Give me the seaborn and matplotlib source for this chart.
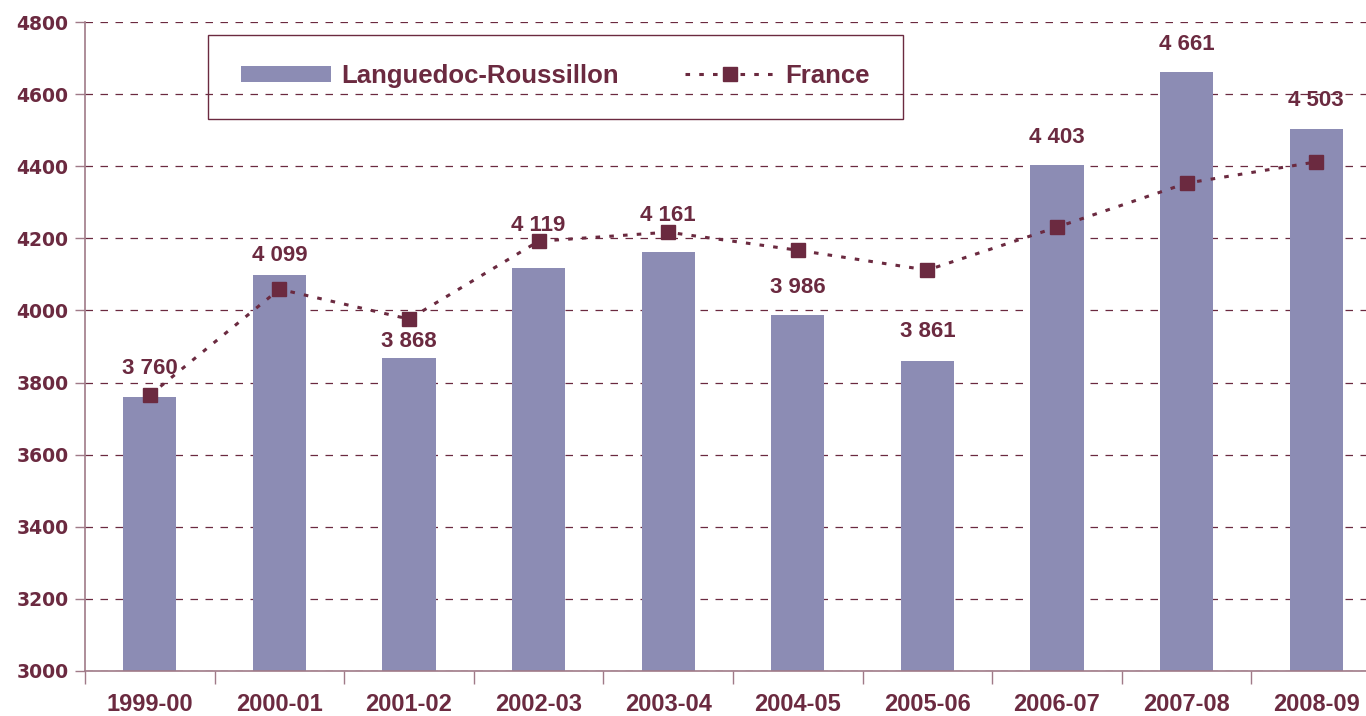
import numpy as np
import pandas as pd
import seaborn as sns
import matplotlib.pyplot as plt
from matplotlib.lines import Line2D
from matplotlib.patches import Patch, Rectangle

# Données
annees = ["1999-00", "2000-01", "2001-02", "2002-03", "2003-04",
          "2004-05", "2005-06", "2006-07", "2007-08", "2008-09"]
languedoc = [3760, 4099, 3868, 4119, 4161, 3986, 3861, 4403, 4661, 4503]
france = [3765, 4059, 3976, 4192, 4217, 4167, 4112, 4231, 4353, 4412]

# décalage vertical des étiquettes (points au-dessus de la barre)
decalage = [20.2, 13.7, 11.6, 30.3, 26.7, 20.2, 20.9, 20.2, 20.2, 20.9]

BAR = "#8C8CB4"
MARRON = "#6B2A40"
AXE = "#A07A88"

sns.set_theme(style="white")
plt.rcParams["font.family"] = ["Liberation Sans", "DejaVu Sans"]
plt.rcParams["font.weight"] = "bold"

df = pd.DataFrame({"annee": annees, "lr": languedoc, "fr": france})

fig = plt.figure(figsize=(13.66, 7.16), dpi=100)
ax = fig.add_axes([85 / 1366, 45 / 716, 1296 / 1366, 649 / 716])

sns.barplot(data=df, x="annee", y="lr", color=BAR, width=0.41,
            saturation=1, linewidth=0, ax=ax, zorder=2)
ax.plot(range(len(annees)), france, color=MARRON, linestyle=(0, (1.5, 3)),
        linewidth=2.2, marker="s", markersize=10, zorder=4)

# Etiquettes des barres
for i, v in enumerate(languedoc):
    txt = f"{v:,}".replace(",", " ")
    ax.annotate(txt, (i, v), xytext=(0, decalage[i]), textcoords="offset points",
                ha="center", va="center", fontsize=16, fontweight="bold",
                color=MARRON, zorder=5)

ax.set_ylim(3000, 4800)
ax.set_xlim(-0.5, 9.5)
ax.set_yticks(range(3000, 4801, 200))
ax.yaxis.grid(True, color=MARRON, linestyle=(0, (6, 6)), linewidth=0.9)
ax.set_axisbelow(True)
ax.set_xlabel("")
ax.set_ylabel("")

for s in ["top", "right"]:
    ax.spines[s].set_visible(False)
for s in ["left", "bottom"]:
    ax.spines[s].set_color(AXE)
    ax.spines[s].set_linewidth(1.2)

ax.tick_params(axis="y", left=True, length=7, color=AXE, width=1,
               labelsize=13.5, labelcolor=MARRON, pad=5)
ax.tick_params(axis="x", which="major", bottom=False, labelsize=17,
               labelcolor=MARRON, pad=10)
ax.set_xticks(np.arange(-0.5, 10, 1), minor=True)
ax.tick_params(axis="x", which="minor", bottom=True, length=9,
               color=AXE, width=1)
for lab in ax.get_xticklabels():
    lab.set_fontweight("bold")
for lab in ax.get_yticklabels():
    lab.set_fontweight("bold")
    lab.set_family("DejaVu Sans")

# Légende dans un cadre
fig.patches.append(Rectangle((208 / 1366, 1 - 119 / 716), 695 / 1366, 84 / 716,
                             transform=fig.transFigure, fill=False,
                             edgecolor=MARRON, linewidth=1, zorder=6))
handles = [Patch(facecolor=BAR, edgecolor="none", label="Languedoc-Roussillon"),
           Line2D([0], [0], color=MARRON, linestyle=(0, (1.5, 3)), linewidth=2.2,
                  marker="s", markersize=10, label="France")]
leg = fig.legend(handles=handles, ncol=2, loc="center",
                 bbox_to_anchor=(555.5 / 1366, 1 - 76 / 716),
                 bbox_transform=fig.transFigure, fontsize=18.5, frameon=False,
                 handlelength=3.5, handleheight=0.6, columnspacing=2.6,
                 handletextpad=0.4, labelcolor=MARRON)
for t in leg.get_texts():
    t.set_fontweight("bold")

fig.savefig("out.png", dpi=100)
